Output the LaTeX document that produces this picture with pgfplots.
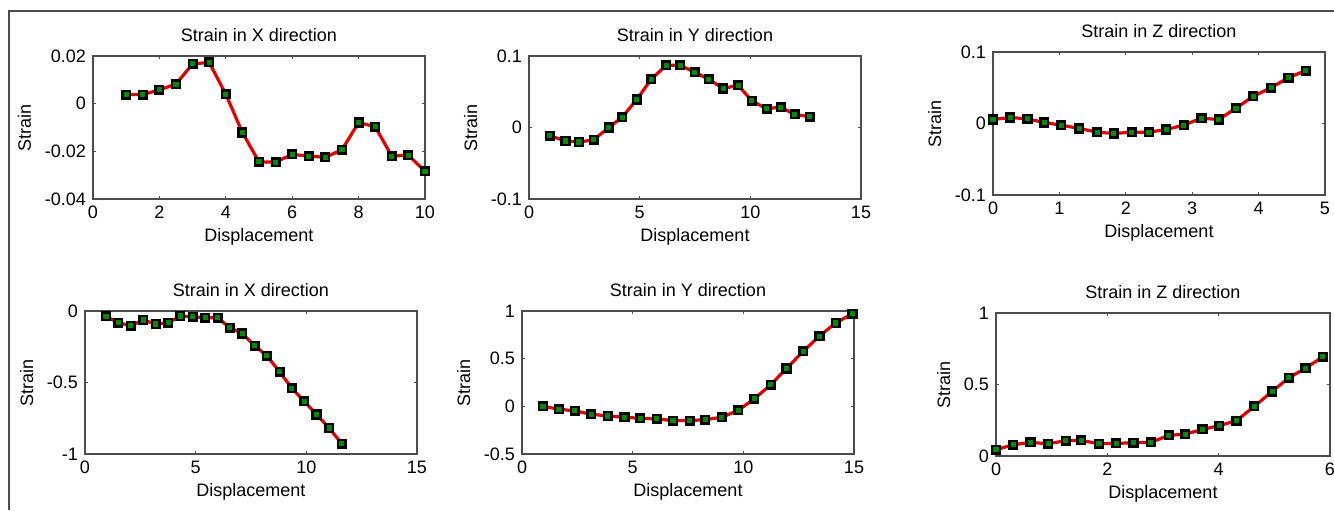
\documentclass[border=0pt]{standalone}
\usepackage{pgfplots}
\pgfplotsset{compat=1.18}
\usepackage{fontspec}
\setmainfont{Liberation Sans}

% MATLAB-like subplot look
\pgfplotsset{
  strainplot/.style={
    scale only axis,
    width=166pt, height=71.5pt,
    anchor=south west,
    tick align=inside,
    major tick length=1.5pt,
    axis line style={black!70, line width=0.6pt},
    every tick/.style={black!70, line width=0.5pt},
    xlabel={Displacement}, ylabel={Strain},
    scaled ticks=false,
    clip=false,
    /pgf/number format/assume math mode=true,
    yticklabel style={/pgf/number format/fixed, /pgf/number format/precision=2},
    title style={yshift=-2.5pt},
    xlabel style={yshift=2pt},
    tick label style={font=\fontsize{9}{10}\selectfont},
    label style={font=\fontsize{9}{10}\selectfont},
    title style={font=\fontsize{9}{10}\selectfont},
  },
  strainline/.style={
    red!90!black, line width=1.6pt, mark=square*, mark size=1.9pt,
    mark options={solid, draw=black, fill=green!55!black, line width=1.25pt},
  },
}

\begin{document}
\begin{tikzpicture}
\useasboundingbox (0,0) rectangle (667pt,-255pt);
\draw[black!70, line width=1pt] (4.5pt,-255pt) -- (4.5pt,-5.25pt) -- (667pt,-5.25pt);

% top left
\begin{axis}[strainplot, at={(46.5pt,-99.5pt)},
    title={Strain in X direction},
    xmin=0, xmax=10, ymin=-0.04, ymax=0.02,
    xtick={0,2,4,6,8,10}, ytick={-0.04,-0.02,0,0.02}]
  \addplot[strainline] coordinates {
    (1.0,0.0038) (1.5,0.0038) (2.0,0.0058) (2.5,0.0082) (3.0,0.0167)
    (3.5,0.0173) (4.0,0.0040) (4.5,-0.0121) (5.0,-0.0244) (5.5,-0.0245)
    (6.0,-0.0213) (6.5,-0.0220) (7.0,-0.0225) (7.5,-0.0193) (8.0,-0.0079)
    (8.5,-0.0097) (9.0,-0.0220) (9.5,-0.0216) (10.0,-0.0284)};
\end{axis}

% top middle
\begin{axis}[strainplot, at={(264.5pt,-99.5pt)},
    title={Strain in Y direction},
    xmin=0, xmax=15, ymin=-0.1, ymax=0.1,
    xtick={0,5,10,15}, ytick={-0.1,0,0.1}]
  \addplot[strainline] coordinates {
    (0.93,-0.0114) (1.65,-0.0188) (2.26,-0.0202) (2.92,-0.0174) (3.60,0.0000)
    (4.21,0.0142) (4.87,0.0392) (5.52,0.0675) (6.20,0.0870) (6.83,0.0870)
    (7.49,0.0773) (8.12,0.0675) (8.77,0.0545) (9.45,0.0592) (10.06,0.0374)
    (10.74,0.0262) (11.37,0.0285) (12.00,0.0183) (12.68,0.0151)};
\end{axis}

% top right
\begin{axis}[strainplot, at={(496.5pt,-97.5pt)},
    title={Strain in Z direction},
    xmin=0, xmax=5, ymin=-0.1, ymax=0.1,
    xtick={0,1,2,3,4,5}, ytick={-0.1,0,0.1}]
  \addplot[strainline] coordinates {
    (0.00,0.0056) (0.26,0.0084) (0.52,0.0065) (0.77,0.0014) (1.03,-0.0023)
    (1.30,-0.0070) (1.57,-0.0121) (1.82,-0.0140) (2.09,-0.0121) (2.35,-0.0121)
    (2.61,-0.0084) (2.87,-0.0023) (3.14,0.0074) (3.40,0.0056) (3.66,0.0214)
    (3.92,0.0381) (4.19,0.0502) (4.45,0.0642) (4.71,0.0740)};
\end{axis}

% bottom left
\begin{axis}[strainplot, at={(42.5pt,-227pt)},
    title={Strain in X direction},
    xmin=0, xmax=15, ymin=-1, ymax=0,
    xtick={0,5,10,15}, ytick={-1,-0.5,0}]
  \addplot[strainline] coordinates {
    (0.95,-0.037) (1.50,-0.082) (2.07,-0.103) (2.63,-0.063) (3.19,-0.091)
    (3.76,-0.082) (4.31,-0.035) (4.87,-0.040) (5.44,-0.047) (6.00,-0.047)
    (6.54,-0.117) (7.11,-0.157) (7.67,-0.243) (8.22,-0.313) (8.79,-0.425)
    (9.35,-0.540) (9.90,-0.631) (10.46,-0.724) (11.03,-0.818) (11.60,-0.928)};
\end{axis}

% bottom middle
\begin{axis}[strainplot, at={(261pt,-227pt)},
    title={Strain in Y direction},
    xmin=0, xmax=15, ymin=-0.5, ymax=1,
    xtick={0,5,10,15}, ytick={-0.5,0,0.5,1}]
  \addplot[strainline] coordinates {
    (0.95,0.000) (1.67,-0.030) (2.39,-0.048) (3.13,-0.083) (3.88,-0.101)
    (4.63,-0.115) (5.34,-0.125) (6.09,-0.132) (6.82,-0.150) (7.58,-0.150)
    (8.28,-0.139) (9.03,-0.115) (9.77,-0.041) (10.49,0.078) (11.23,0.225)
    (11.95,0.397) (12.70,0.576) (13.44,0.737) (14.17,0.874) (14.93,0.972)};
\end{axis}

% bottom right
\begin{axis}[strainplot, at={(498pt,-228pt)}, width=167pt,
    title={Strain in Z direction},
    xmin=0, xmax=6, ymin=0, ymax=1,
    xtick={0,2,4,6}, ytick={0,0.5,1}]
  \addplot[strainline] coordinates {
    (0.00,0.044) (0.31,0.079) (0.62,0.095) (0.94,0.086) (1.25,0.107)
    (1.53,0.109) (1.85,0.086) (2.16,0.088) (2.47,0.093) (2.78,0.095)
    (3.10,0.144) (3.40,0.153) (3.71,0.186) (4.01,0.212) (4.32,0.247)
    (4.64,0.347) (4.96,0.451) (5.26,0.547) (5.56,0.614) (5.87,0.693)};
\end{axis}
\end{tikzpicture}
\end{document}
